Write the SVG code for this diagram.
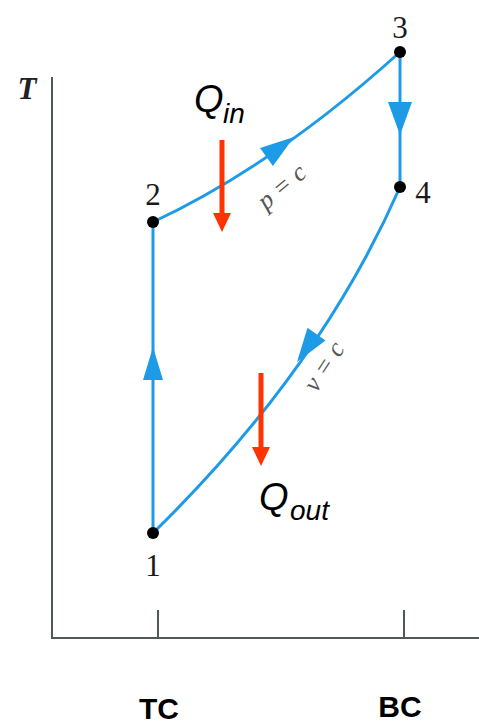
<svg xmlns="http://www.w3.org/2000/svg" width="479" height="725" viewBox="0 0 479 725">
<style>
.axis{stroke:#4d5a56;stroke-width:2;fill:none}
.proc{stroke:#1e9be6;stroke-width:3;fill:none}
.head{fill:#1e9be6}
.dot{fill:#000}
.num{font-family:"Liberation Serif",serif;font-size:31px;fill:#1a1a1a;text-anchor:middle}
.q{font-family:"Liberation Sans",Arial,sans-serif;font-style:italic;fill:#000}
.pc{font-family:"Liberation Serif",serif;font-style:italic;font-size:26px;fill:#555;text-anchor:middle}
.heat{stroke:#ff3300;stroke-width:5;fill:none}
.heathead{fill:#ff3300}
.tb{font-family:"Liberation Sans",Arial,sans-serif;font-weight:bold;font-size:30px;fill:#000;text-anchor:middle}
</style>
<rect width="479" height="725" fill="#fff"/>
<g id="axes">
<path class="axis" d="M52,77 V638 H479"/>
<path class="axis" d="M158,610 V638 M404,610 V638"/>
<text x="27" y="99" font-family="Liberation Serif,serif" font-style="italic" font-weight="bold" font-size="31" fill="#222" text-anchor="middle">T</text>
</g>
<g id="connectors">
<g id="c12"><path class="proc" d="M153,533 V222"/><polygon class="head" points="153,347 143,380 163,380"/></g>
<g id="c23"><path class="proc" d="M153,222 Q275,165 400,52"/><polygon class="head" points="0,0 -34,-11 -34,11" transform="translate(294,137) rotate(-36)"/></g>
<g id="c34"><path class="proc" d="M400,52 V187"/><polygon class="head" points="400,135 388,102 412,102"/></g>
<g id="c41"><path class="proc" d="M400,187 Q320,370 153,533"/><polygon class="head" points="0,0 -34,-11 -34,11" transform="translate(297,362) rotate(125)"/></g>
</g>
<g id="n1"><circle class="dot" cx="153" cy="533" r="6"/><text class="num" x="153" y="576">1</text></g>
<g id="n2"><circle class="dot" cx="153" cy="222" r="6"/><text class="num" x="153" y="205">2</text></g>
<g id="n3"><circle class="dot" cx="400" cy="52" r="6"/><text class="num" x="400" y="38">3</text></g>
<g id="n4"><circle class="dot" cx="400" cy="187" r="6"/><text class="num" x="423" y="203">4</text></g>
<g id="labels">
<text class="pc" transform="translate(287,193) rotate(-40)">p = c</text>
<text class="pc" transform="translate(331,371) rotate(-57)">v = c</text>
</g>
<g id="qin">
<path class="heat" d="M222,140 V214"/><polygon class="heathead" points="222,232 213,213 231,213"/>
<text class="q" x="194" y="112" font-size="38">Q</text><text class="q" x="223" y="123" font-size="28">in</text>
</g>
<g id="qout">
<path class="heat" d="M261,373 V448"/><polygon class="heathead" points="261,466 252,447 270,447"/>
<text class="q" x="259" y="510" font-size="38">Q</text><text class="q" x="290" y="520" font-size="28">out</text>
</g>
<g id="ticks">
<text class="tb" x="159" y="719">TC</text>
<text class="tb" x="400" y="717">BC</text>
</g>
</svg>
